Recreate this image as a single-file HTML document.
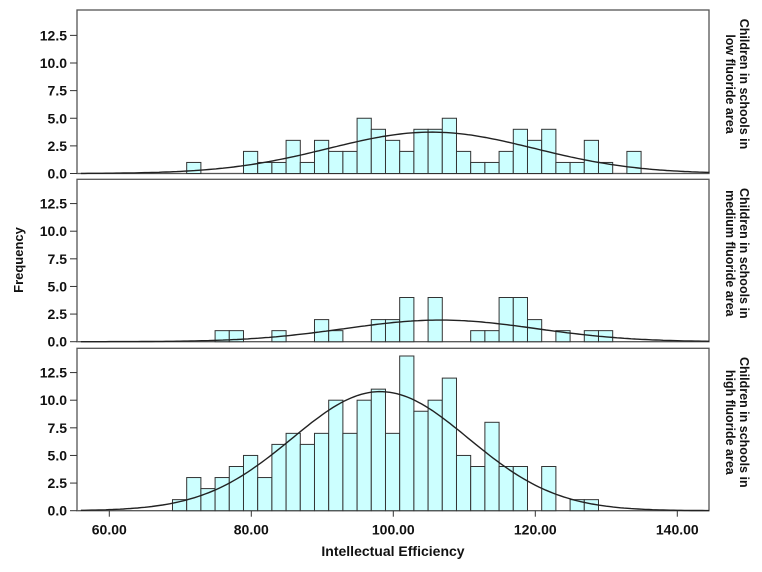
<!DOCTYPE html>
<html><head><meta charset="utf-8"><style>
body{margin:0;background:#fff;}
svg{display:block;font-family:"Liberation Sans",sans-serif;font-weight:bold;}
</style></head><body>
<svg id="chart" width="762" height="572" viewBox="0 0 762 572"></svg>
<script>
const binStart = 68.9;
const binWidth = 2;
const lowCounts = [0,1,0,0,0,2,1,1,3,1,3,2,2,5,4,3,2,4,4,5,2,1,1,2,4,3,4,1,1,3,1,0,2];
const mediumCounts = [0,0,0,1,1,0,0,1,0,0,2,1,0,0,2,2,4,0,4,0,0,1,1,4,4,2,0,1,0,1,1];
const highCounts = [1,3,2,3,4,5,3,6,7,6,7,10,7,10,11,7,14,9,10,12,5,4,8,4,4,0,4,0,1,1];
const panelTitles = [["Children in schools in","low fluoride area"],["Children in schools in","medium fluoride area"],["Children in schools in","high fluoride area"]];
const yTicks = [0,2.5,5,7.5,10,12.5];
const xTicks = [60,80,100,120,140];

const svg = document.getElementById('chart');
const NS = 'http://www.w3.org/2000/svg';
const X0 = 77, X1 = 709;
const xs = v => 109.3 + (v - 60) * 7.1;
const pxPerUnit = 11.05;
const panels = [{top:10,base:173.5,data:lowCounts,name:'low'},{top:179.3,base:341.7,data:mediumCounts,name:'medium'},{top:348.3,base:510.7,data:highCounts,name:'high'}];
function mk(tag, attrs, parent){const e=document.createElementNS(NS,tag);for(const k in attrs)e.setAttribute(k,attrs[k]);(parent||svg).appendChild(e);return e;}

panels.forEach((p,pi)=>{
  const g = mk('g',{});
  
  
  const ys = v => p.base - v * pxPerUnit;
  const frame = mk('rect',{x:X0,y:p.top,width:X1-X0,height:p.base-p.top,fill:'#fff',stroke:'#555','stroke-width':1.3},g);
  
  
  // bars
  let n=0,sum=0,sq=0;
  p.data.forEach((c,k)=>{
    const lo = binStart + k*binWidth, mid = lo + binWidth/2;
    n+=c; sum+=c*mid; sq+=c*mid*mid;
    if(!c) return;
    const r = mk('rect',{x:xs(lo),y:ys(c),width:xs(lo+binWidth)-xs(lo),height:c*pxPerUnit,fill:'#ccffff',stroke:'#333','stroke-width':1},g);
    
    
  });
  const mean = sum/n, sd = Math.sqrt(sq/n - mean*mean);
  let d='';
  for(let v=56; v<=145; v+=0.5){
    const f = n*binWidth/(sd*Math.sqrt(2*Math.PI))*Math.exp(-0.5*((v-mean)/sd)**2);
    const x = Math.max(X0, Math.min(X1, xs(v)));
    d += (d?'L':'M') + x.toFixed(1) + ',' + ys(f).toFixed(1);
  }
  const curve = mk('path',{d:d,fill:'none',stroke:'#222','stroke-width':1.4},g);
  
  
  // y ticks
  yTicks.forEach(t=>{
    mk('line',{x1:X0-7,x2:X0,y1:ys(t),y2:ys(t),stroke:'#333','stroke-width':1},g);
    const tx = mk('text',{x:X0-10,y:ys(t)+5,'text-anchor':'end','font-size':14,fill:'#111'},g);
    tx.textContent = t.toFixed(1);
    
    
  });
  // title
  const cy = p.top + 74;
  const tt = mk('text',{transform:`translate(740,${cy}) rotate(90)`,'text-anchor':'middle','font-size':12.5,fill:'#111'},g);
  
  
  const s1 = mk('tspan',{x:0,y:0},tt); s1.textContent = panelTitles[pi][0];
  const s2 = mk('tspan',{x:0,y:14},tt); s2.textContent = panelTitles[pi][1];
});
// x axis
const base = 510.7;
xTicks.forEach(t=>{
  mk('line',{x1:xs(t),x2:xs(t),y1:base,y2:base+6,stroke:'#333','stroke-width':1});
  const tx = mk('text',{x:xs(t),y:base+24,'text-anchor':'middle','font-size':14,fill:'#111'});
  tx.textContent = t.toFixed(2);
  
  
});
const xt = mk('text',{x:393,y:556,'text-anchor':'middle','font-size':14,fill:'#111'});
xt.textContent = 'Intellectual Efficiency';


const yt = mk('text',{transform:'translate(23,260) rotate(-90)','text-anchor':'middle','font-size':13,fill:'#111'});
yt.textContent = 'Frequency';


</script>
</body></html>
